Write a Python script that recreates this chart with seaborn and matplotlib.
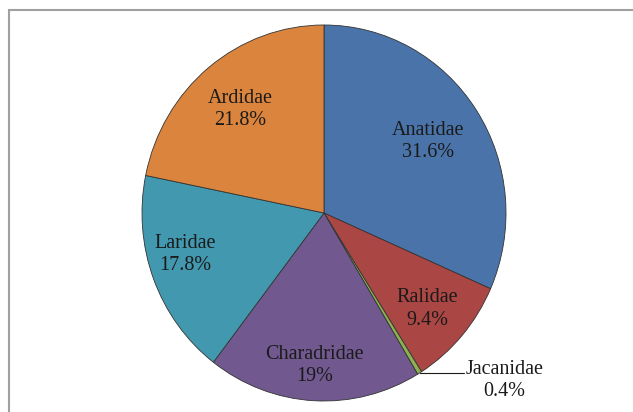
import matplotlib
matplotlib.use('Agg')
import matplotlib.pyplot as plt
import seaborn as sns

sns.set_theme(style='white')
plt.rcParams['font.family'] = ['Liberation Serif', 'DejaVu Serif']

# family shares, clockwise from 12 o'clock
families = ['Anatidae', 'Ralidae', 'Jacanidae', 'Charadridae', 'Laridae', 'Ardidae']
shares = [31.6, 9.4, 0.4, 19, 17.8, 21.8]
share_labels = ['31.6%', '9.4%', '0.4%', '19%', '17.8%', '21.8%']
colors = ['#4A73A9', '#AA4643', '#8DB050', '#71588F', '#4298AF', '#DB843D']

# label positions (axes data coords, pie radius = 1)
label_pos = [(0.57, 0.38), (0.57, -0.51), (0.99, -0.89),
             (-0.05, -0.81), (-0.76, -0.22), (-0.46, 0.55)]

fig = plt.figure(figsize=(6.33, 4.12), dpi=100)
# thin grey frame like the original, cut at right/bottom
frame = plt.Rectangle((9 / 633, -0.05), 1.1, 1 - 10 / 412 + 0.05,
                      transform=fig.transFigure, fill=False,
                      edgecolor='#A0A0A0', linewidth=1.5)
fig.add_artist(frame)

# pie is a touch taller than wide in the original
rx, ry = 182, 188
cx, cy = 324, 412 - 213
ax = fig.add_axes([(cx - rx) / 633, (cy - ry) / 412, 2 * rx / 633, 2 * ry / 412])
wedges, _ = ax.pie(shares, colors=colors, startangle=90, counterclock=False,
                   wedgeprops=dict(edgecolor='#333333', linewidth=0.6))
ax.set_xlim(-1, 1)
ax.set_ylim(-1, 1)
ax.set_aspect('auto')
ax.axis('off')

for name, lab, (x, y) in zip(families, share_labels, label_pos):
    ax.text(x, y, name + '\n' + lab, ha='center', va='center',
            fontsize=14.5, color='#1a1a1a', linespacing=1.25)

# leader line for the tiny Jacanidae slice
ax.plot([0.53, 0.63, 0.77], [-0.85, -0.85, -0.85], color='#1a1a1a',
        linewidth=0.8, clip_on=False)

fig.savefig('out.png', dpi=100)
